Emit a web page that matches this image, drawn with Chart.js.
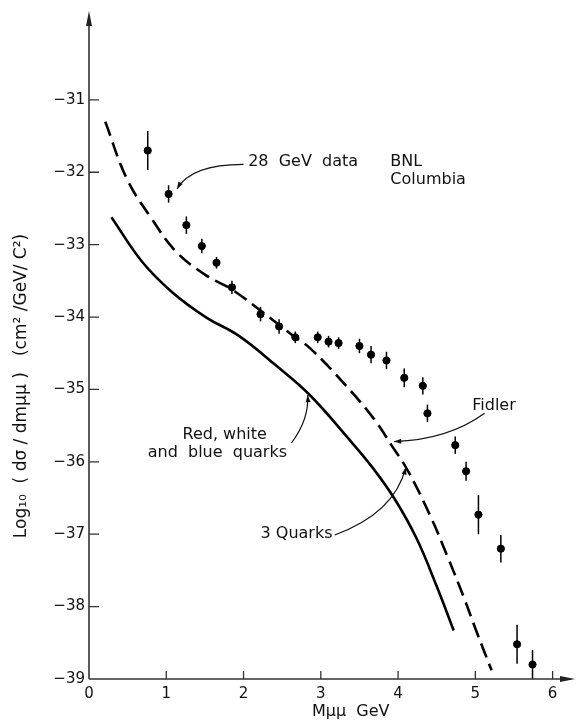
<!doctype html>
<html>
<head>
<meta charset="utf-8">
<title>Dimuon mass spectrum</title>
<script src="https://cdn.jsdelivr.net/npm/chart.js@4/dist/chart.umd.min.js"></script>
<style>
  html, body { margin: 0; padding: 0; background: #fff; }
  #wrap { width: 577px; height: 726px; }
</style>
</head>
<body>
<div id="wrap"><canvas id="chart" width="577" height="726"></canvas></div>
<script>
// 28 GeV data, BNL Columbia
const massGeV = [0.76, 1.03, 1.26, 1.46, 1.65, 1.85, 2.22, 2.46, 2.67, 2.96, 3.10, 3.23,
  3.50, 3.65, 3.85, 4.08, 4.32, 4.38, 4.74, 4.88, 5.04, 5.33, 5.54, 5.74];
const logSigma = [-31.70, -32.30, -32.73, -33.02, -33.25, -33.59, -33.96, -34.13, -34.28, -34.28, -34.34, -34.36,
  -34.40, -34.52, -34.60, -34.84, -34.95, -35.33, -35.77, -36.13, -36.73, -37.20, -38.52, -38.80];
const logSigmaErr = [0.27, 0.12, 0.12, 0.10, 0.08, 0.09, 0.10, 0.10, 0.08, 0.08, 0.08, 0.08,
  0.10, 0.12, 0.12, 0.13, 0.12, 0.12, 0.12, 0.13, 0.27, 0.19, 0.27, 0.20];

// Fidler (dashed)
const fidlerMass = [0.21, 0.49, 0.81, 1.13, 1.51, 1.85, 2.23, 2.62, 2.87, 3.31, 3.69, 3.92, 4.12, 4.41, 4.64, 4.85, 5.01, 5.21];
const fidlerLog = [-31.30, -32.09, -32.64, -33.10, -33.42, -33.62, -33.92, -34.24, -34.44, -34.93, -35.41, -35.78, -36.11, -36.73, -37.31, -37.87, -38.33, -38.88];

// 3 quarks (solid)
const quarkMass = [0.29, 0.69, 1.08, 1.51, 1.94, 2.41, 2.86, 3.35, 3.67, 3.96, 4.24, 4.50, 4.72];
const quarkLog = [-32.62, -33.24, -33.66, -34.00, -34.26, -34.66, -35.08, -35.67, -36.08, -36.52, -37.06, -37.72, -38.33];

const xTicks = [0, 1, 2, 3, 4, 5, 6];
const yTicks = [-31, -32, -33, -34, -35, -36, -37, -38, -39];

// labels with leader curves, in data units: [start, control, end]
const notes = [
  { lines: ['28  GeV  data'], at: [2.06, -31.86], leader: [[2.00, -31.89], [1.32, -31.89], [1.14, -32.23]] },
  { lines: ['BNL', 'Columbia'], at: [3.90, -31.86] },
  { lines: ['Red, white'], at: [1.21, -35.63] },
  { lines: ['and  blue  quarks'], at: [0.76, -35.87], leader: [[2.62, -35.74], [2.85, -35.41], [2.83, -35.08]] },
  { lines: ['Fidler'], at: [4.96, -35.23], leader: [[5.12, -35.33], [4.64, -35.70], [3.95, -35.72]] },
  { lines: ['3 Quarks'], at: [2.22, -36.99], leader: [[3.18, -37.01], [3.95, -36.71], [4.10, -36.08]] }
];

const FONT = '"DejaVu Sans", "Noto Sans", sans-serif';

function arrowHead(ctx, x, y, ang, len, half) {
  ctx.beginPath();
  ctx.moveTo(x, y);
  ctx.lineTo(x - len * Math.cos(ang) + half * Math.sin(ang), y - len * Math.sin(ang) - half * Math.cos(ang));
  ctx.lineTo(x - len * Math.cos(ang) - half * Math.sin(ang), y - len * Math.sin(ang) + half * Math.cos(ang));
  ctx.closePath();
  ctx.fill();
}

const paperPlugin = {
  id: 'paper',
  afterDatasetsDraw(chart) {
    const { ctx, chartArea: a } = chart;
    const xs = chart.scales.x, ys = chart.scales.y;
    const px = v => xs.getPixelForValue(v), py = v => ys.getPixelForValue(v);
    ctx.save();

    // error bars
    ctx.strokeStyle = '#000';
    ctx.lineWidth = 1.5;
    massGeV.forEach((m, i) => {
      const x = px(m);
      ctx.beginPath();
      ctx.moveTo(x, py(logSigma[i] + logSigmaErr[i]));
      ctx.lineTo(x, Math.min(py(logSigma[i] - logSigmaErr[i]), a.bottom));
      ctx.stroke();
    });

    // axes with arrows
    const x0 = px(0), y0 = py(-39);
    ctx.strokeStyle = '#333';
    ctx.fillStyle = '#222';
    ctx.lineWidth = 1.6;
    ctx.beginPath();
    ctx.moveTo(x0, y0); ctx.lineTo(x0, a.top + 6);
    ctx.moveTo(x0, y0); ctx.lineTo(chart.width - 6, y0);
    ctx.stroke();
    arrowHead(ctx, x0, a.top - 2, -Math.PI / 2, 15, 3);
    arrowHead(ctx, chart.width - 2, y0, 0, 15, 3);

    // inward ticks
    ctx.lineWidth = 1.3;
    ctx.beginPath();
    yTicks.slice(0, -1).forEach(v => { ctx.moveTo(x0, py(v)); ctx.lineTo(x0 + 10, py(v)); });
    xTicks.slice(1).forEach(v => { ctx.moveTo(px(v), y0); ctx.lineTo(px(v), y0 - 8); });
    ctx.stroke();

    // annotations
    ctx.fillStyle = '#111';
    ctx.strokeStyle = '#111';
    ctx.font = '16px ' + FONT;
    ctx.textBaseline = 'middle';
    ctx.textAlign = 'left';
    notes.forEach(n => {
      n.lines.forEach((t, k) => ctx.fillText(t, px(n.at[0]), py(n.at[1]) + k * 18));
      if (!n.leader) return;
      const [s, c, e] = n.leader.map(p => [px(p[0]), py(p[1])]);
      ctx.lineWidth = 1.2;
      ctx.beginPath();
      ctx.moveTo(s[0], s[1]);
      ctx.quadraticCurveTo(c[0], c[1], e[0], e[1]);
      ctx.stroke();
      arrowHead(ctx, e[0], e[1], Math.atan2(e[1] - c[1], e[0] - c[0]), 7, 2.5);
    });

    // x title
    ctx.fillText('Mμμ  GeV', 312, 712);

    // y title
    ctx.font = '17px ' + FONT;
    ctx.translate(22, 386);
    ctx.rotate(-Math.PI / 2);
    ctx.textAlign = 'center';
    ctx.fillText('Log₁₀  ( dσ / dmμμ )   (cm² /GeV/ C²)', 0, 0);
    ctx.restore();
  }
};

new Chart(document.getElementById('chart'), {
  type: 'scatter',
  data: {
    datasets: [
      {
        label: '28 GeV data BNL Columbia',
        data: massGeV.map((m, i) => ({ x: m, y: logSigma[i] })),
        backgroundColor: '#000',
        borderColor: '#000',
        pointRadius: 3.6,
        pointHoverRadius: 3.6
      },
      {
        label: 'Fidler',
        data: fidlerMass.map((m, i) => ({ x: m, y: fidlerLog[i] })),
        showLine: true,
        borderColor: '#000',
        borderWidth: 2.6,
        borderDash: [15, 7],
        pointRadius: 0,
        tension: 0.4
      },
      {
        label: '3 Quarks',
        data: quarkMass.map((m, i) => ({ x: m, y: quarkLog[i] })),
        showLine: true,
        borderColor: '#000',
        borderWidth: 2.6,
        pointRadius: 0,
        tension: 0.4
      }
    ]
  },
  options: {
    responsive: false,
    animation: false,
    devicePixelRatio: 1,
    layout: { padding: { top: 5, right: 0, left: 0, bottom: 0 } },
    plugins: { legend: { display: false }, tooltip: { enabled: false } },
    scales: {
      x: {
        type: 'linear',
        min: 0,
        max: 6.256,
        afterFit: s => { s.height = 47; },
        afterBuildTicks: s => { s.ticks = xTicks.map(v => ({ value: v })); },
        grid: { display: false, drawTicks: false },
        border: { display: false },
        ticks: { color: '#111', font: { family: FONT, size: 15 }, padding: 6 }
      },
      y: {
        type: 'linear',
        min: -39,
        max: -29.8,
        afterFit: s => { s.width = 89; },
        afterBuildTicks: s => { s.ticks = yTicks.map(v => ({ value: v })); },
        grid: { display: false, drawTicks: false },
        border: { display: false },
        ticks: {
          color: '#111',
          font: { family: FONT, size: 15 },
          padding: 4,
          callback: v => '−' + Math.abs(v)
        }
      }
    }
  },
  plugins: [paperPlugin]
});
</script>
</body>
</html>
